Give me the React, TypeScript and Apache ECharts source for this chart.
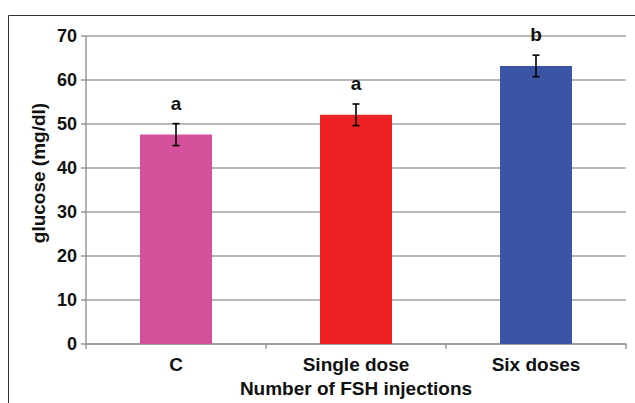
import React, { useEffect, useRef } from "react";
import * as echarts from "echarts";

const categories = ["C", "Single dose", "Six doses"];
const means = [47.6, 52.1, 63.2];
const errors = [2.5, 2.45, 2.45];
const letters = ["a", "a", "b"];
const barColors = ["#D5509B", "#EE2224", "#3A55A3"];
const yTicks = { min: 0, max: 70, interval: 10 };

const FONT = '"Liberation Sans", Arial, sans-serif';

export default function App() {
  const ref = useRef<HTMLDivElement>(null);
  useEffect(() => {
    if (!ref.current) return;
    const chart = echarts.init(ref.current, undefined, { renderer: "svg" });
    const errData = categories.map((_, i) => [i, means[i] - errors[i], means[i] + errors[i]]);
    chart.setOption({
      animation: false,
      backgroundColor: "#ffffff",
      grid: { left: 86, right: 9, top: 36, bottom: 57, containLabel: false },
      graphic: [
        {
          type: "polyline",
          shape: { points: [[8.5, 410], [8.5, 15.5], [640, 15.5]] },
          style: { fill: "none", stroke: "#333333", lineWidth: 1 },
          silent: true,
        },
        {
          type: "text",
          x: 38,
          y: 173,
          rotation: Math.PI / 2,
          style: {
            text: "glucose (mg/dl)",
            font: `bold 19px ${FONT}`,
            fill: "#111",
            align: "center",
            verticalAlign: "middle",
          },
        },
      ],
      xAxis: {
        type: "category",
        data: categories,
        name: "Number of FSH injections",
        nameLocation: "middle",
        nameGap: 33,
        nameTextStyle: { fontFamily: FONT, fontWeight: "bold", fontSize: 19, color: "#111" },
        axisLine: { lineStyle: { color: "#999", width: 1.5 } },
        axisTick: { show: true, alignWithLabel: false, length: 5, lineStyle: { color: "#999", width: 1.5 } },
        axisLabel: { fontFamily: FONT, fontWeight: "bold", fontSize: 19, color: "#111", margin: 11 },
        splitLine: { show: false },
      },
      yAxis: {
        type: "value",
        min: yTicks.min,
        max: yTicks.max,
        interval: yTicks.interval,
        axisLine: { show: true, lineStyle: { color: "#999", width: 1.5 } },
        axisTick: { show: true, length: 5, lineStyle: { color: "#999", width: 1.5 } },
        axisLabel: { fontFamily: FONT, fontWeight: "bold", fontSize: 18, color: "#111", margin: 9 },
        splitLine: { show: true, lineStyle: { color: "#a0a0a0", width: 1.5 } },
      },
      series: [
        {
          type: "bar",
          barWidth: "40%",
          data: means.map((v, i) => ({ value: v, itemStyle: { color: barColors[i] } })),
          z: 2,
        },
        {
          type: "custom",
          z: 5,
          data: errData,
          renderItem: (params: any, api: any) => {
            const i = api.value(0);
            const top = api.coord([i, api.value(2)]);
            const bot = api.coord([i, api.value(1)]);
            const x = top[0];
            const cap = 3.5;
            const ls = { stroke: "#000", lineWidth: 1.6 };
            return {
              type: "group",
              children: [
                { type: "line", shape: { x1: x, y1: top[1], x2: x, y2: bot[1] }, style: ls },
                { type: "line", shape: { x1: x - cap, y1: top[1], x2: x + cap, y2: top[1] }, style: ls },
                { type: "line", shape: { x1: x - cap, y1: bot[1], x2: x + cap, y2: bot[1] }, style: ls },
                {
                  type: "text",
                  x: x,
                  y: top[1] - 11,
                  style: {
                    text: letters[params.dataIndex],
                    font: `bold 19px ${FONT}`,
                    fill: "#111",
                    align: "center",
                    verticalAlign: "bottom",
                  },
                },
              ],
            };
          },
        },
      ],
    });
    return () => chart.dispose();
  }, []);
  return (
    <div
      ref={ref}
      style={{ position: "fixed", left: 0, top: 0, width: 635, height: 403, background: "#fff" }}
    />
  );
}
